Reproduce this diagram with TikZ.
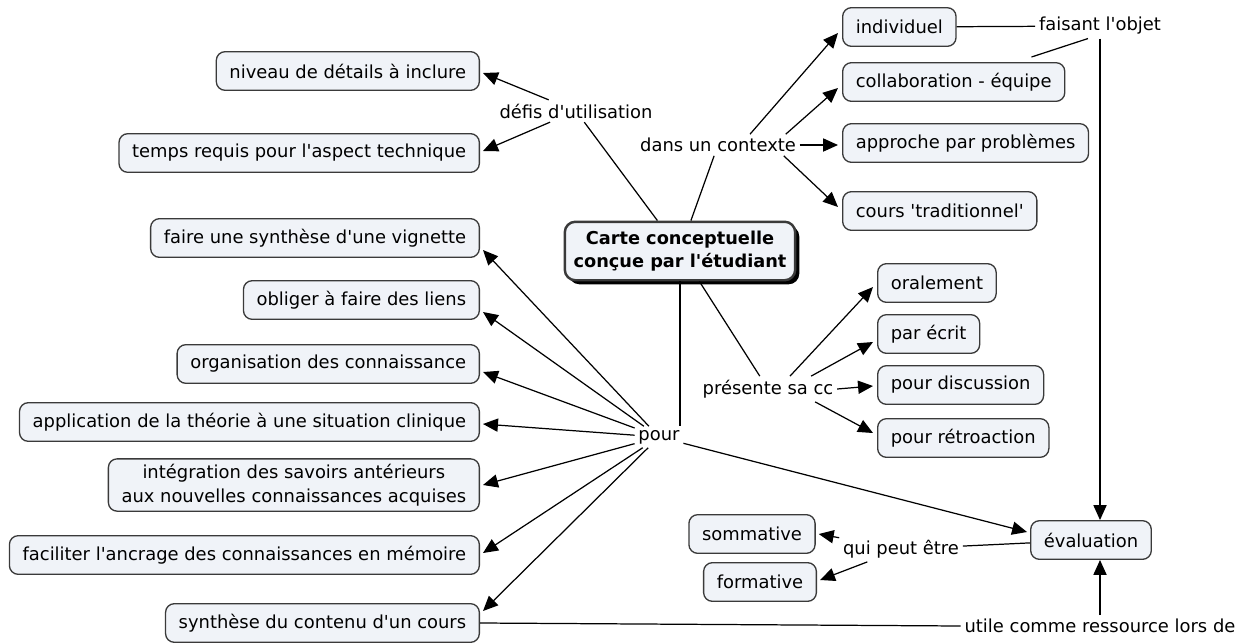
\documentclass[tikz,border=0pt]{standalone}
\usepackage{fontspec}
\setmainfont{DejaVu Sans}
\usetikzlibrary{arrows.meta,shadows,calc}
\newcommand{\ap}{\textquotesingle}
\definecolor{boxfill}{HTML}{F0F3F8}
\definecolor{boxline}{HTML}{3A3A3A}
\begin{document}
\begin{tikzpicture}[x=0.02cm,y=-0.02cm,
  box/.style={draw=boxline, fill=boxfill, rounded corners=5pt, line width=0.75pt,
    inner xsep=7.5pt, inner ysep=3pt, minimum height=22pt, align=center,
    font=\fontsize{10.2}{13.5}\selectfont},
  mainbox/.style={box, line width=1.4pt, rounded corners=6pt, inner ysep=5pt, inner xsep=5pt,
    font=\bfseries\fontsize{10.1}{13.5}\selectfont,
    drop shadow={shadow xshift=2.3pt, shadow yshift=-2.3pt, fill=black, opacity=1}},
  lp/.style={inner sep=2pt, font=\fontsize{10.2}{13.5}\selectfont},
  arr/.style={-{Triangle[length=8.5pt,width=7.5pt]}, line width=0.7pt},
  ln/.style={line width=0.7pt}]
\useasboundingbox (0,0) rectangle (1245,643);

% central
\node[mainbox] (cc) at (680,251) {Carte conceptuelle\\conçue par l\ap étudiant};

% left column (right aligned at x=480)
\node[box, anchor=east] (niv) at (480,71) {niveau de détails à inclure};
\node[box, anchor=east] (tps) at (480,153) {temps requis pour l\ap aspect technique};
\node[box, anchor=east] (vig) at (480,238) {faire une synthèse d\ap une vignette};
\node[box, anchor=east] (obl) at (480,300) {obliger à faire des liens};
\node[box, anchor=east] (org) at (480,364) {organisation des connaissance};
\node[box, anchor=east] (app) at (480,422) {application de la théorie à une situation clinique};
\node[box, anchor=east] (int) at (480,485) {intégration des savoirs antérieurs\\aux nouvelles connaissances acquises};
\node[box, anchor=east] (fac) at (480,555) {faciliter l\ap ancrage des connaissances en mémoire};
\node[box, anchor=east] (syn) at (480,623) {synthèse du contenu d\ap un cours};

% right top column (left aligned at x=842)
\node[box, anchor=west] (ind) at (842,27) {individuel};
\node[box, anchor=west] (col) at (842,82) {collaboration - équipe};
\node[box, anchor=west] (apb) at (842,143) {approche par problèmes};
\node[box, anchor=west] (tra) at (842,211) {cours \ap traditionnel\ap};

% right middle column (left aligned at x=877)
\node[box, anchor=west] (ora) at (877,283) {oralement};
\node[box, anchor=west] (ecr) at (877,334) {par écrit};
\node[box, anchor=west] (dis) at (877,385) {pour discussion};
\node[box, anchor=west] (ret) at (877,438) {pour rétroaction};

% bottom right
\node[box] (eva) at (1091,540) {évaluation};
\node[box] (som) at (752,534) {sommative};
\node[box] (for) at (760,582) {formative};

% linking phrases
\node[lp] (def) at (576,111) {défis d\ap utilisation};
\node[lp] (ctx) at (718,145) {dans un contexte};
\node[lp] (pre) at (768,389) {présente sa cc};
\node[lp] (pou) at (659,437) {pour};
\node[lp] (obj) at (1100,26) {faisant l\ap objet};
\node[lp] (qui) at (901,549) {qui peut être};
\node[lp] (uti) at (1100,626) {utile comme ressource lors de};

% connectors
\draw[ln] (cc) -- (def);
\draw[arr] (def) -- ($(niv.east)+(3,2)$);
\draw[arr] (def) -- ($(tps.east)+(3,-2)$);

\draw[ln] (cc) -- (ctx);
\draw[arr] ($(ctx.north)+(32,0)$) -- ($(ind.west)+(-4,6)$);
\draw[arr] ($(ctx.north east)+(-14,0)$) -- ($(col.west)+(-4,6)$);
\draw[arr] (ctx.east) -- ($(apb.west)+(-4,2)$);
\draw[arr] ($(ctx.south east)+(-16,0)$) -- ($(tra.west)+(-4,-4)$);

\draw[ln] (ind) -- (obj);
\draw[ln] ($(col.north east)+(-34,-5)$) -- ($(obj.south)+(-12,0)$);
\draw[arr] (obj.south) -- (obj.south |- eva.north);

\draw[ln] (cc) -- (pre);
\draw[arr] ($(pre.north)+(22,0)$) -- ($(ora.west)+(-4,4)$);
\draw[arr] ($(pre.north east)+(-26,0)$) -- ($(ecr.west)+(-4,8)$);
\draw[arr] (pre.east) -- ($(dis.west)+(-4,1)$);
\draw[arr] ($(pre.south east)+(-22,0)$) -- ($(ret.west)+(-4,-5)$);

\draw[ln] (cc) -- (cc |- pou.north);
\draw[arr] (pou) -- ($(vig.east)+(3,12)$);
\draw[arr] (pou) -- ($(obl.east)+(3,12)$);
\draw[arr] (pou) -- ($(org.east)+(3,8)$);
\draw[arr] (pou) -- ($(app.east)+(3,2)$);
\draw[arr] (pou) -- ($(int.east)+(3,0)$);
\draw[arr] (pou) -- ($(fac.east)+(3,-2)$);
\draw[arr] (pou) -- ($(syn.east)+(3,-12)$);
\draw[arr] (pou) -- ($(eva.west)+(-3,-8)$);

\draw[ln] (eva) -- (qui);
\draw[arr] (qui) -- ($(som.east)+(3,0)$);
\draw[arr] (qui) -- ($(for.east)+(3,-2)$);

\draw[ln] (syn.east) -- (uti.west);
\draw[arr] (uti.north) -- (uti.north |- eva.south);
\end{tikzpicture}
\end{document}
